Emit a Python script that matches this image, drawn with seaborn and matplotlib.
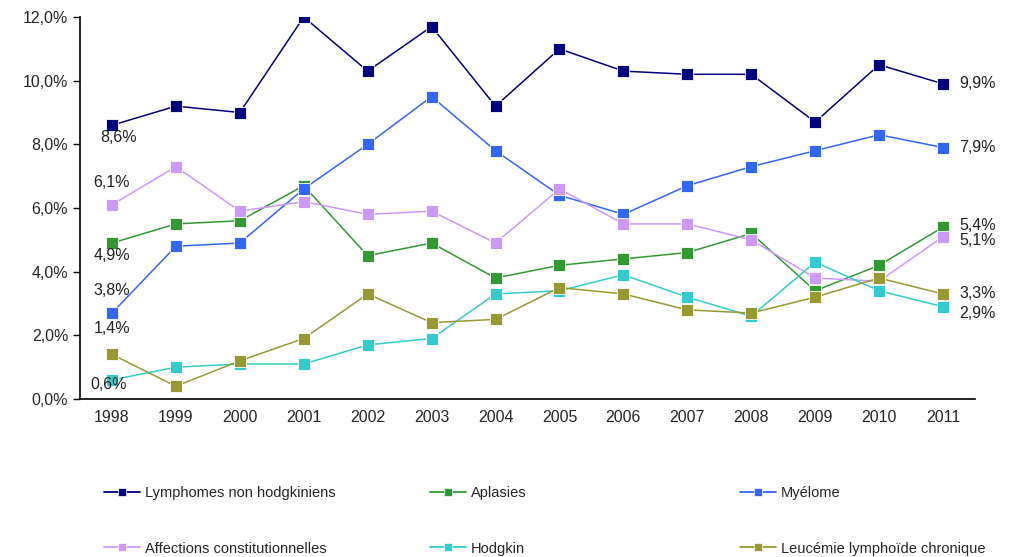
import matplotlib
matplotlib.use("Agg")
import matplotlib.pyplot as plt
import seaborn as sns
import pandas as pd
from matplotlib.lines import Line2D
from matplotlib import font_manager

years = list(range(1998, 2012))
lymphomes = [8.6, 9.2, 9.0, 12.0, 10.3, 11.7, 9.2, 11.0, 10.3, 10.2, 10.2, 8.7, 10.5, 9.9]
aplasies = [4.9, 5.5, 5.6, 6.7, 4.5, 4.9, 3.8, 4.2, 4.4, 4.6, 5.2, 3.4, 4.2, 5.4]
myelome = [2.7, 4.8, 4.9, 6.6, 8.0, 9.5, 7.8, 6.4, 5.8, 6.7, 7.3, 7.8, 8.3, 7.9]
affections = [6.1, 7.3, 5.9, 6.2, 5.8, 5.9, 4.9, 6.6, 5.5, 5.5, 5.0, 3.8, 3.7, 5.1]
hodgkin = [0.6, 1.0, 1.1, 1.1, 1.7, 1.9, 3.3, 3.4, 3.9, 3.2, 2.6, 4.3, 3.4, 2.9]
leucemie = [1.4, 0.4, 1.2, 1.9, 3.3, 2.4, 2.5, 3.5, 3.3, 2.8, 2.7, 3.2, 3.8, 3.3]

series_names = ["Lymphomes non hodgkiniens", "Aplasies", "Myélome",
                "Affections constitutionnelles", "Hodgkin", "Leucémie lymphoïde chronique"]
series_values = [lymphomes, aplasies, myelome, affections, hodgkin, leucemie]
colors = ["#000080", "#339933", "#3366FF", "#CC99FF", "#33CCCC", "#999933"]

left_labels = ["8,6%", "6,1%", "4,9%", "3,8%", "1,4%", "0,6%"]
left_label_y = [8.2, 6.8, 4.5, 3.4, 2.23, 0.47]
left_label_x = [1998.1, 1998.0, 1998.0, 1998.0, 1998.0, 1997.95]
right_labels = ["9,9%", "7,9%", "5,4%", "5,1%", "3,3%", "2,9%"]
right_label_y = [9.9, 7.9, 5.45, 4.97, 3.3, 2.68]

rows = []
for name, vals in zip(series_names, series_values):
    for y, v in zip(years, vals):
        rows.append({"Année": y, "Valeur": v, "Série": name})
df = pd.DataFrame(rows)

sns.set_style("white")
plt.rcParams["font.family"] = ["Liberation Sans", "DejaVu Sans"]

names_avail = {f.name for f in font_manager.fontManager.ttflist}
leg_family = ["Liberation Sans Narrow", "Liberation Sans"] if "Liberation Sans Narrow" in names_avail else ["Liberation Sans"]

fig = plt.figure(figsize=(10.14, 5.57), dpi=100)
ax = fig.add_axes([80/1014, 1 - 399/557, (975-80)/1014, (399-17)/557])

palette = dict(zip(series_names, colors))
sns.lineplot(data=df, x="Année", y="Valeur", hue="Série", palette=palette,
             marker="s", markersize=8, markeredgewidth=0.6, linewidth=1.1,
             ax=ax, legend=False)
for line, c in zip(ax.get_lines(), colors):
    line.set_markeredgecolor("white")
    line.set_markerfacecolor(c)

ax.set_xlim(1997.5, 2011.5)
ax.set_ylim(0, 12)
ax.set_xticks(years)
ax.set_xticklabels([str(y) for y in years], fontsize=11.5)
ax.set_xticks([y + 0.5 for y in years[:-1]] + [1997.5], minor=True)
ax.tick_params(axis="x", which="major", length=0, pad=8)
ax.tick_params(axis="x", which="minor", length=5, width=1, direction="out", color="black")
yt = [0, 2, 4, 6, 8, 10, 12]
ax.set_yticks(yt)
ax.set_yticklabels([f"{v:.1f}%".replace(".", ",") for v in yt], fontsize=11.5)
ax.tick_params(axis="y", length=5, width=1, direction="out", color="black", left=True)
ax.set_xlabel("")
ax.set_ylabel("")
for s in ["top", "right"]:
    ax.spines[s].set_visible(False)
for s in ["left", "bottom"]:
    ax.spines[s].set_color("black")
    ax.spines[s].set_linewidth(1.2)

for lab, xv, yv in zip(left_labels, left_label_x, left_label_y):
    ax.text(xv, yv, lab, ha="center", va="center", fontsize=11.5, color="#222222")
for lab, yv in zip(right_labels, right_label_y):
    ax.text(2011.25, yv, lab, ha="left", va="center", fontsize=11.5, color="#222222")

handles = [Line2D([0], [0], color=c, marker="s", markersize=6, markeredgecolor="white",
                  markeredgewidth=0.5, linewidth=1.3) for c in colors]
cols = [(0, 3), (1, 4), (2, 5)]
xpos = [104/1014, 430/1014, 740/1014]
for (i, j), xp in zip(cols, xpos):
    fig.legend([handles[i], handles[j]], [series_names[i], series_names[j]],
               loc="upper left", bbox_to_anchor=(xp, 1 - 486/557), frameon=False,
               prop={"family": leg_family, "size": 10.5},
               handlelength=2.5, handletextpad=0.3, labelspacing=2.85,
               borderaxespad=0, borderpad=0)

fig.savefig("out.png", dpi=100, facecolor="white")
